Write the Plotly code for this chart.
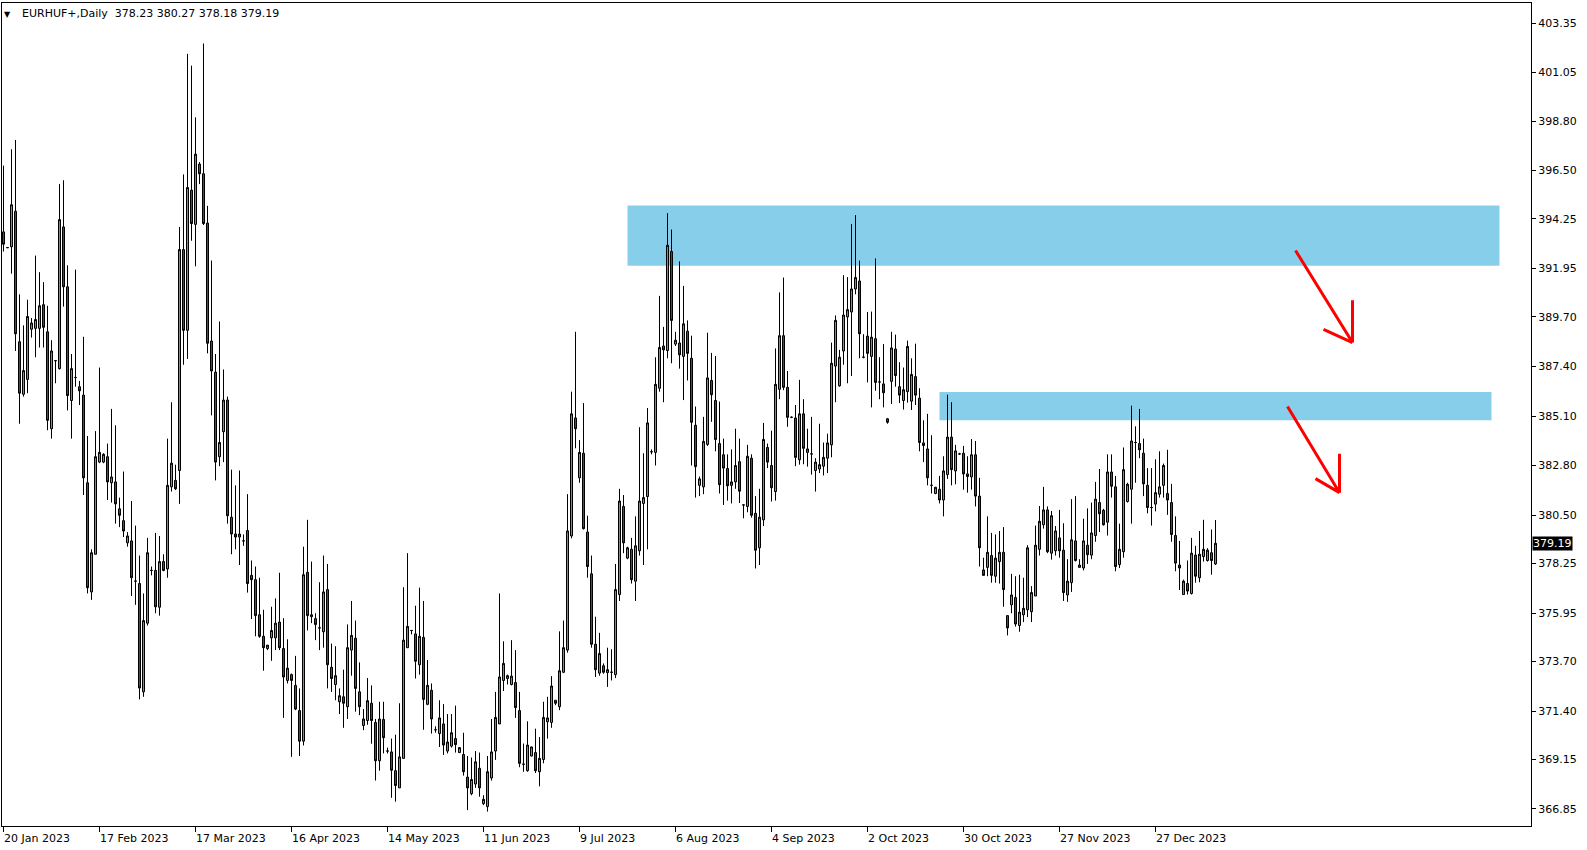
import plotly.graph_objects as go

# ---- data (EURHUF+, Daily) ----
opens = [393.65,392.92,392.96,394.61,388.55,386.11,386.80,389.13,389.17,389.17,
390.27,389.01,384.51,387.67,387.30,393.88,391.10,385.82,386.89,386.46,
386.07,382.00,376.93,378.68,382.96,382.96,383.21,382.00,382.04,380.79,
380.24,379.21,379.30,377.43,377.32,372.29,375.48,377.93,377.93,376.22,
378.34,378.00,381.81,382.11,382.57,392.83,389.08,395.59,394.00,396.80,
396.35,394.06,388.58,387.14,383.21,384.37,385.84,380.40,379.62,379.48,
379.30,379.78,377.70,377.50,375.87,374.87,374.30,374.80,374.80,375.53,
374.30,372.82,373.09,372.59,371.42,370.00,377.84,375.78,375.69,375.26,
375.08,377.04,373.43,372.63,371.83,372.06,371.60,374.23,374.78,372.29,
370.73,370.96,371.76,370.87,369.09,371.01,369.54,369.50,368.63,367.83,
369.20,374.34,375.14,374.98,373.55,374.82,371.71,372.36,370.53,370.35,
370.80,369.54,369.77,370.12,369.47,369.38,368.33,367.56,368.01,368.74,
367.10,366.96,368.29,369.54,370.80,372.82,372.91,372.63,372.72,371.42,
368.93,368.63,369.31,369.47,368.58,369.15,370.90,370.87,371.90,371.60,
373.20,374.23,379.53,385.01,382.23,383.37,379.71,377.77,374.50,373.16,
373.50,373.18,373.20,373.09,376.81,380.90,378.50,378.91,377.43,378.84,
381.04,381.36,383.44,383.41,386.39,388.35,388.14,392.74,388.44,388.49,
387.87,389.04,387.78,384.67,381.88,381.81,383.78,386.75,385.82,383.82,
383.30,382.66,381.88,382.04,382.98,380.97,380.90,383.14,380.58,378.98,
380.28,383.64,382.80,381.59,386.34,388.83,386.43,385.04,385.01,383.07,
385.20,383.41,383.34,382.57,382.64,382.77,383.14,383.76,387.42,386.50,
388.12,389.70,389.93,391.00,391.37,387.83,388.81,387.87,388.69,386.68,
386.59,384.97,386.71,388.21,386.46,385.82,386.23,385.79,386.93,385.93,
383.85,383.57,381.88,381.50,381.70,381.20,382.38,384.12,382.55,383.34,
383.37,382.41,382.27,383.30,381.38,377.95,378.07,378.62,377.66,378.34,
378.77,375.83,376.33,376.67,375.37,375.87,376.10,376.01,376.74,378.91,
380.05,380.74,378.73,378.84,379.44,378.87,376.79,377.36,379.30,378.07,
378.04,379.10,378.64,379.55,381.08,380.72,380.17,382.50,381.81,378.20,
378.80,381.13,381.70,383.87,383.82,383.37,381.88,380.85,381.01,381.47,
381.88,381.50,381.08,379.55,378.18,376.81,377.32,376.86,378.64,377.59,
378.57,378.39,378.75,378.23]

highs = [396.73,392.95,397.49,397.92,390.75,389.31,390.50,389.65,392.55,391.78,
391.32,390.22,388.62,387.67,395.87,396.05,392.10,387.98,391.90,386.73,
388.78,384.17,378.91,384.40,387.35,383.37,383.82,385.43,384.67,381.31,
382.52,379.71,381.15,380.01,378.62,376.86,379.44,378.11,379.67,379.53,
378.68,384.05,385.74,382.84,393.88,396.32,401.92,401.37,398.97,396.89,
402.40,394.86,392.32,387.98,389.49,387.26,386.00,382.61,381.88,382.57,
379.60,381.47,378.39,378.11,377.59,376.10,374.46,376.24,376.63,377.82,
375.71,374.73,373.14,373.96,372.45,379.03,380.28,378.34,375.94,377.38,
378.62,378.23,374.53,374.41,372.45,373.32,375.42,376.51,375.60,373.66,
371.49,372.93,372.59,371.03,371.83,371.83,369.70,370.12,370.30,371.76,
377.15,378.73,375.14,376.29,377.13,376.51,373.77,372.68,370.69,371.90,
371.72,371.26,371.26,371.65,369.72,370.39,369.31,369.24,369.54,369.47,
367.49,369.31,371.03,372.29,376.86,374.64,373.09,374.69,374.23,372.29,
369.89,370.92,369.75,370.58,370.19,371.83,372.06,373.02,371.90,375.10,
375.60,381.47,386.23,389.01,383.98,385.70,380.47,378.62,375.78,375.03,
373.61,374.34,374.27,378.23,381.72,381.43,379.03,379.44,380.44,384.58,
383.37,385.47,383.55,387.83,390.68,389.24,394.52,393.76,389.01,392.28,
391.14,389.54,388.83,385.54,382.29,385.06,388.97,388.03,387.89,385.77,
384.05,383.32,383.55,384.51,384.05,380.97,383.76,383.32,381.38,381.72,
384.78,383.82,384.42,388.24,390.84,391.53,387.19,385.08,385.61,386.78,
385.88,384.51,385.06,383.14,384.74,383.87,384.28,388.51,389.77,388.17,
391.64,391.55,394.02,394.43,392.32,388.90,389.93,389.95,392.42,387.83,
388.44,385.01,389.01,388.88,387.60,387.35,388.60,387.78,388.46,386.39,
384.90,385.20,384.21,381.81,382.32,383.23,386.09,385.74,383.76,383.39,
383.71,383.23,384.03,383.94,382.23,378.52,380.44,379.67,379.60,379.76,
379.94,375.83,377.77,377.66,377.73,377.59,379.10,377.20,380.01,380.92,
381.81,380.90,380.69,379.99,380.74,380.12,378.45,381.24,381.38,378.45,
380.33,380.81,381.08,382.04,382.64,380.79,383.32,383.32,382.32,380.10,
383.64,382.00,385.58,384.62,385.43,384.05,382.68,382.68,383.09,383.46,
382.89,383.53,381.95,380.44,379.30,377.50,378.39,379.44,379.07,379.76,
380.28,378.96,379.83,380.27]

lows = [392.74,392.90,391.71,388.12,384.74,386.00,386.16,388.74,387.83,388.28,
388.28,384.44,384.05,386.62,387.26,390.18,385.36,384.05,386.46,385.61,
381.43,376.86,376.56,378.68,382.91,382.91,381.20,381.08,380.10,379.94,
379.48,379.03,376.74,376.33,371.94,372.06,375.37,377.70,375.94,375.83,
377.89,377.59,381.59,381.66,381.02,387.48,387.75,393.24,392.05,395.87,
393.97,388.01,385.13,382.11,382.77,382.96,380.10,378.68,378.91,378.18,
379.07,376.90,375.67,374.87,374.80,373.27,374.23,373.73,374.23,374.23,
371.08,372.68,369.27,371.44,369.31,369.80,375.14,375.48,374.69,374.23,
374.34,372.45,372.29,371.90,371.26,370.62,371.03,373.04,371.37,371.21,
370.51,370.76,369.88,368.17,368.63,369.43,369.43,367.37,367.19,367.83,
369.20,374.34,374.96,372.91,373.09,370.53,371.67,370.35,370.39,369.73,
369.36,369.43,369.70,369.47,369.45,368.40,366.80,367.49,367.83,367.42,
367.03,366.73,368.17,369.13,370.80,372.33,372.63,372.59,371.08,368.79,
368.58,368.58,369.29,368.52,367.90,368.97,370.12,370.62,371.67,371.44,
373.16,374.11,379.42,383.60,382.00,379.83,377.59,374.34,372.98,373.04,
373.13,372.52,372.82,372.93,376.51,378.73,378.45,377.32,376.51,378.62,
378.18,378.91,383.32,382.80,386.23,385.74,387.78,387.55,388.35,387.30,
385.84,386.75,382.80,381.31,381.38,381.47,383.71,384.83,383.46,381.50,
380.97,381.17,381.04,381.72,381.06,380.35,380.63,380.38,378.02,378.18,
379.99,382.68,381.13,381.17,385.88,386.30,384.60,385.00,382.77,382.84,
382.86,382.75,382.38,381.59,382.45,382.34,382.45,383.18,385.74,386.46,
387.48,386.62,386.96,390.75,387.78,387.78,386.66,385.50,386.27,385.88,
385.50,384.74,385.66,386.46,385.70,385.40,385.72,385.38,385.61,383.46,
382.96,381.88,381.50,381.47,381.04,380.44,382.18,381.88,381.93,383.30,
381.68,381.54,381.68,380.90,378.11,377.70,377.66,377.36,377.36,377.32,
376.24,374.91,375.94,375.32,375.08,375.53,375.76,375.53,376.74,378.62,
379.87,378.73,378.43,378.62,378.52,376.51,376.47,376.93,378.34,378.07,
377.93,378.23,378.45,379.26,379.71,380.01,379.55,381.31,377.89,378.04,
378.52,381.08,380.10,382.00,383.14,381.38,380.58,380.01,380.67,381.31,
381.31,380.51,379.26,377.89,377.02,376.79,376.81,376.81,377.36,377.38,
378.34,378.34,377.73,378.18]

closes = [393.08,392.92,394.91,388.92,386.16,387.21,389.72,389.42,389.58,390.22,
389.22,384.90,388.12,387.67,394.22,391.10,386.05,387.30,386.89,386.27,
382.23,377.13,378.75,383.21,383.41,383.32,382.04,382.27,381.02,380.49,
379.76,379.53,377.59,377.43,372.47,375.60,378.75,377.93,376.24,378.34,
377.93,381.88,382.91,381.72,392.83,389.08,395.71,394.04,397.26,396.35,
394.04,388.48,387.19,382.96,383.87,385.84,380.47,379.62,379.48,379.62,
379.30,377.32,377.50,375.83,374.87,374.34,374.46,375.14,375.48,374.34,
372.98,373.39,372.82,371.49,370.00,377.73,375.83,375.87,375.42,375.26,
376.93,373.55,372.91,373.04,372.11,371.76,374.34,374.91,372.45,371.60,
371.03,371.88,370.96,369.09,371.03,370.16,369.54,368.65,367.94,369.27,
374.69,375.33,375.14,373.71,374.87,371.94,372.59,371.03,370.53,371.08,
369.82,369.96,370.39,369.84,369.70,368.58,367.83,368.22,369.04,367.83,
367.30,368.58,369.50,371.10,372.98,373.61,373.04,373.02,371.56,368.97,
368.93,369.82,369.73,368.63,369.20,371.10,371.08,372.56,371.76,373.27,
374.34,379.76,385.20,384.51,383.41,379.87,378.11,374.50,373.32,374.07,
373.20,373.32,373.20,377.04,381.15,379.21,378.98,377.50,379.07,381.15,
381.31,384.78,383.44,386.57,388.28,388.17,393.03,389.54,388.62,387.94,
389.38,388.01,384.81,382.75,382.18,383.92,386.87,386.09,384.01,381.91,
382.68,381.86,382.04,382.80,381.61,380.97,383.23,380.49,378.87,380.40,
384.01,382.96,381.77,386.57,388.83,386.43,385.04,385.04,383.18,385.20,
383.60,383.57,383.34,382.96,382.84,383.18,383.85,387.55,389.54,387.83,
389.79,390.04,391.00,391.53,388.92,387.83,388.01,388.76,386.66,386.68,
386.18,384.81,388.26,386.98,386.07,386.32,388.33,387.03,386.07,383.87,
383.73,382.23,381.88,381.79,381.20,382.55,384.12,382.61,383.48,383.34,
382.41,382.29,383.30,381.38,378.98,377.70,378.77,377.70,378.50,378.77,
377.04,375.26,376.79,375.44,375.99,376.17,378.98,376.90,379.10,380.21,
380.74,378.80,380.47,379.76,378.84,376.90,377.43,379.35,378.39,378.18,
379.30,378.66,379.67,381.24,380.56,380.05,382.50,381.84,378.11,378.91,
382.61,381.93,383.94,383.87,383.53,381.95,380.85,380.85,381.54,381.81,
382.80,381.20,379.60,378.27,378.04,377.43,376.97,378.73,377.66,378.68,
378.91,378.87,378.39,379.19]

date_labels = ["20 Jan 2023", "17 Feb 2023", "17 Mar 2023", "16 Apr 2023",
               "14 May 2023", "11 Jun 2023", "9 Jul 2023", "6 Aug 2023",
               "4 Sep 2023", "2 Oct 2023", "30 Oct 2023", "27 Nov 2023",
               "27 Dec 2023"]
bars_per_label = 24
price_labels = ["403.35", "401.05", "398.80", "396.50", "394.25", "391.95",
                "389.70", "387.40", "385.10", "382.80", "380.50", "378.25",
                "375.95", "373.70", "371.40", "369.15", "366.85"]

# supply zones (start bar, end bar, low, high)
zones = [(156, 374, 392.08, 394.88), (234, 372, 384.90, 386.22)]
# arrows: start, tip, head1, head2 (bar, price)
arrows = [((323, 392.79), (337.25, 388.51), (337.25, 390.47), (330, 389.12)),
          ((321, 385.54), (334, 381.54), (334, 383.35), (328, 382.19))]

symbol = "EURHUF+,Daily"
last_ohlc = "378.23 380.27 378.18 379.19"
last_price = 379.19

# ---- figure ----
n = len(opens)
xs = list(range(n))
FONT = "DejaVu Sans"

fig = go.Figure(go.Candlestick(
    x=xs, open=opens, high=highs, low=lows, close=closes,
    increasing=dict(line=dict(color="black", width=1), fillcolor="#1fd21f"),
    decreasing=dict(line=dict(color="black", width=1), fillcolor="#e00f0f"),
    whiskerwidth=0, hoverinfo="skip"))

shapes = []
for (b0, b1, lo, hi) in zones:
    shapes.append(dict(type="rect", xref="x", yref="y", x0=b0, x1=b1, y0=lo, y1=hi,
                       fillcolor="#87CEEB", line=dict(width=0), layer="below"))
for (s, t, h1, h2) in arrows:
    path = (f"M {s[0]},{s[1]} L {t[0]},{t[1]} "
            f"M {h1[0]},{h1[1]} L {t[0]},{t[1]} "
            f"M {h2[0]},{h2[1]} L {t[0]},{t[1]}")
    shapes.append(dict(type="path", xref="x", yref="y", path=path,
                       line=dict(color="#ff0000", width=3)))

tick_bars = [i * bars_per_label for i in range(len(date_labels))]
annotations = []
for b, lab in zip(tick_bars, date_labels):
    annotations.append(dict(x=b, y=0, xref="x", yref="paper", text=lab,
                            xanchor="left", yanchor="top", yshift=-4, xshift=-2,
                            showarrow=False, font=dict(family=FONT, size=11, color="black")))
annotations.append(dict(x=0, y=1, xref="paper", yref="paper", text="▼",
                        xanchor="left", yanchor="top", xshift=0, yshift=-5,
                        showarrow=False, font=dict(family=FONT, size=8, color="black")))
annotations.append(dict(x=0, y=1, xref="paper", yref="paper",
                        text=symbol + "\u00a0\u00a0" + last_ohlc,
                        xanchor="left", yanchor="top", xshift=18, yshift=-2,
                        showarrow=False, font=dict(family=FONT, size=11, color="black")))
annotations.append(dict(x=1, y=last_price, xref="paper", yref="y", text=f"{last_price:.2f}",
                        xanchor="left", yanchor="middle", xshift=1,
                        showarrow=False, bgcolor="black", borderpad=0,
                        font=dict(family=FONT, size=11, color="white")))

fig.update_layout(
    width=1587, height=850,
    margin=dict(l=2, r=56, t=3, b=24),
    paper_bgcolor="white", plot_bgcolor="white",
    showlegend=False, boxgap=0.5, boxgroupgap=0,
    shapes=shapes, annotations=annotations,
    xaxis=dict(range=[-0.375, 381.875], showgrid=False, zeroline=False,
               showline=True, mirror=True, linecolor="black", linewidth=1,
               ticks="outside", ticklen=5, tickcolor="black", tickwidth=1,
               tickvals=tick_bars, showticklabels=False,
               rangeslider=dict(visible=False), fixedrange=True),
    yaxis=dict(side="right", range=[366.06, 404.28], showgrid=False, zeroline=False,
               showline=True, mirror=True, linecolor="black", linewidth=1,
               ticks="outside", ticklen=4, tickcolor="black", tickwidth=1,
               tickvals=[float(v) for v in price_labels], ticktext=price_labels,
               tickfont=dict(family=FONT, size=11, color="black"), fixedrange=True),
)

fig.write_html("out.html",
               config={"displayModeBar": False, "staticPlot": True},
               post_script="document.body.style.margin='0px';document.body.style.padding='0px';")
